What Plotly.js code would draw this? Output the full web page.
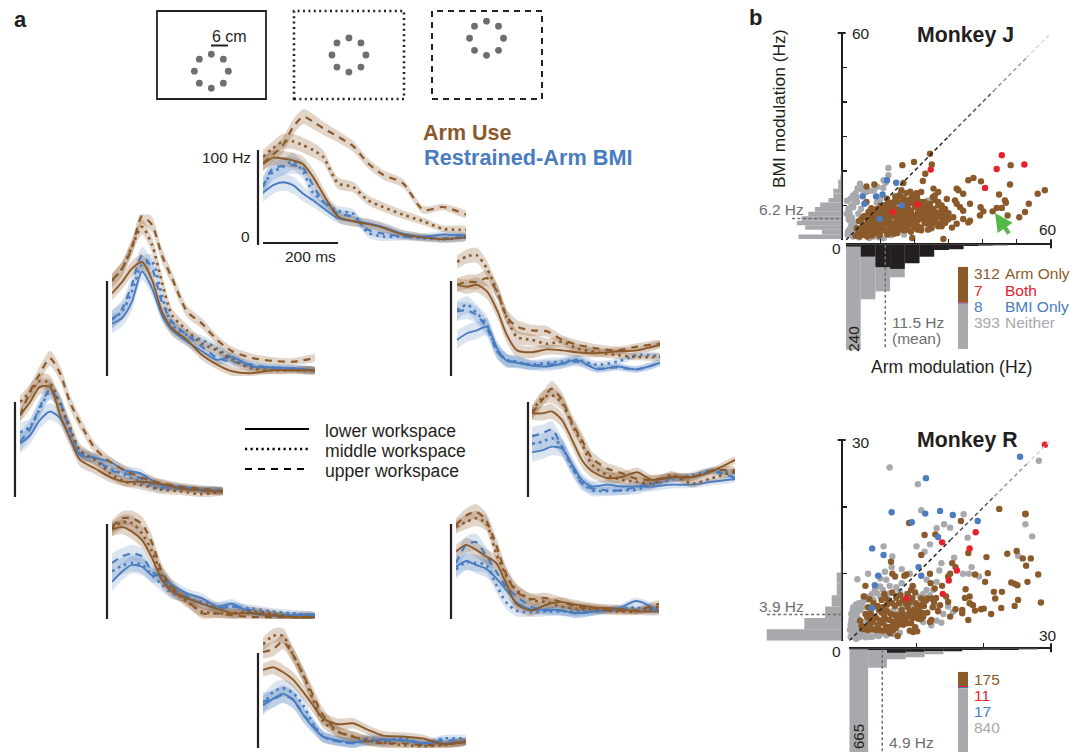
<!DOCTYPE html>
<html>
<head>
<meta charset="utf-8">
<script src="https://cdn.plot.ly/plotly-3.0.1.min.js"></script>
<style>html,body{margin:0;padding:0;background:#fff}</style>
</head>
<body>
<div id="chart" style="width:1084px;height:752px"></div>
<script>
// ---------- firing-rate traces (Hz) on a shared time grid (ms) ----------
const timeMs = [0,27,53,80,107,133,160,200,240,280,320,373,427,480,541];
const armBand = [7,7.5,8,8,8,8,7,6,5.5,5,5,4.5,4,3.5,3.5];
const bmiBand = [10,9,9,9,8,7,6,5,5,5,5,4,3.5,3.5,3];

const p1ArmDash = [86,95,105,124,135,130,123,114,104,86,74,65,37,40,32];
const p1ArmDot  = [93,102,109,109,105,100,93,65,61,47,40,32,25,17,16];
const p1ArmLine = [85,92,91,89,85,72,54,30,25,22,18,11,8,6,8];
const p1BmiDash = [61,81,83,84,81,63,46,33,30,16,12,9,8,7,9];
const p1BmiDot  = [63,77,82,88,77,55,46,36,33,13,9,9,7,6,8];
const p1BmiLine = [55,63,66,63,54,47,39,28,25,23,19,12,9,11,10];

const p2ArmDash = [101,113,135,168,159,127,103,68,55,38,26,19,16,15,19];
const p2ArmDot  = [100,113,136,157,138,99,64,48,34,27,17,8,6,6,6];
const p2ArmLine = [87,99,113,120,101,68,50,38,22,12,5,3,6,6,6];
const p2BmiDash = [59,71,96,127,113,78,57,43,31,19,15,12,8,8,6];
const p2BmiDot  = [60,68,89,117,120,85,54,43,38,29,19,10,9,8,6];
const p2BmiLine = [55,61,78,110,92,64,48,36,26,17,20,10,9,8,6];

const p3ArmDash = [96,99,99,103,89,62,52,48,47,38,33,29,27,31,34];
const p3ArmDot  = [120,126,127,113,89,61,41,38,34,36,29,25,22,20,20];
const p3ArmLine = [96,94,96,89,69,43,27,25,28,27,25,24,26,27,33];
const p3BmiDash = [68,69,64,50,26,16,15,11,12,13,15,8,9,7,14];
const p3BmiDot  = [69,75,66,54,26,17,15,12,14,15,17,12,15,22,21];
const p3BmiLine = [38,45,48,52,29,16,14,11,10,13,17,7,10,7,14];

const p4ArmDash = [86,111,130,146,130,100,78,51,37,28,21,15,11,9,6];
const p4ArmDot  = [100,111,122,120,97,74,49,39,25,16,13,8,6,3,6];
const p4ArmLine = [86,100,116,116,86,62,39,30,21,16,16,14,9,7,6];
const p4BmiDash = [58,72,95,113,99,72,46,41,28,25,20,11,9,7,6];
const p4BmiDot  = [68,74,93,111,100,67,48,39,30,23,16,9,9,8,7];
const p4BmiLine = [56,65,81,90,83,62,44,41,37,28,25,13,11,8,7];

const p5ArmDash = [88,102,114,102,78,60,41,30,25,19,18,21,21,28,28];
const p5ArmDot  = [90,104,107,99,76,56,34,23,18,16,14,23,14,20,27];
const p5ArmLine = [88,88,90,81,60,39,27,20,21,26,18,21,21,27,39];
const p5BmiDash = [64,67,71,53,32,14,9,7,7,11,14,20,21,27,20];
const p5BmiDot  = [56,58,62,53,30,16,7,6,7,8,13,18,23,28,25];
const p5BmiLine = [47,49,53,51,34,18,11,13,11,11,11,13,13,16,19];

const p6ArmDash = [97,106,106,100,80,50,34,20,6,6,4,2,2,2,2];
const p6ArmDot  = [95,102,101,90,71,46,32,18,8,6,6,8,6,2,2];
const p6ArmLine = [94,97,92,83,64,41,29,22,16,11,6,6,4,2,2];
const p6BmiDash = [59,66,69,66,50,43,32,24,16,11,13,9,4,4,4];
const p6BmiDot  = [50,56,59,57,46,36,27,22,18,13,13,11,8,6,4];
const p6BmiLine = [39,50,57,55,46,46,36,27,22,13,16,6,4,4,4];

const p7ArmDash = [99,109,113,104,78,48,29,21,22,18,13,11,9,9,16];
const p7ArmDot  = [97,102,106,101,69,46,31,20,18,13,11,10,8,8,13];
const p7ArmLine = [71,78,73,66,59,38,16,9,15,18,15,12,11,8,8];
const p7BmiDash = [59,78,81,67,50,34,24,13,9,9,6,8,11,9,9];
const p7BmiDot  = [52,60,59,57,36,18,9,7,8,8,8,8,11,12,9];
const p7BmiLine = [55,61,57,53,43,31,18,10,10,9,6,8,10,19,9];

const p8ArmDash = [101,104,112,98,77,56,35,17,12,7,5,5,3,4,7];
const p8ArmDot  = [109,118,118,98,77,51,28,17,12,8,6,3,2,3,7];
const p8ArmLine = [82,85,80,72,59,45,31,25,26,19,13,12,10,4,6];
const p8BmiDash = [49,51,56,51,35,24,12,7,5,8,7,8,5,8,7];
const p8BmiDot  = [45,59,63,58,45,26,12,7,5,10,8,10,5,10,10];
const p8BmiLine = [45,52,57,51,35,22,12,8,6,7,9,8,5,5,7];

// ---------- Monkey J scatter (arm Hz, BMI Hz) ----------
const jBrownX = [24.6,19.9,16.5,25.1,23.2,22.5,8.3,6.0,16.8,25.6,27.0,26.0,25.4,22.0,35.8,37.3,39.5,48.0,48.2,44.8,46.5,46.8,58.2,56.1,53.5,52.4,50.7,47.3,45.6,44.1,42.9,40.2,39.4,39.2,36.3,35.8,36.3,34.3,32.4,32.9,29.5,31.9,32.4,33.4,34.3,31.4,32.4,34.3,28.5,19.4,24.6,
 2.8,3.5,3.2,4,4.2,4.8,3.8,4.5,5.2,5.6,6,5.4,6.2,6.4,6.8,7,7.2,7.6,7.8,8,8.2,8.4,8.8,9,9.2,9.6,9.8,10,10.2,10.4,10.6,10.9,11,11.4,11.6,11.8,12.2,12.4,12.6,12.8,13,13.2,13.6,13.8,14,14.2,14.6,14.8,15,15.4,15.6,15.8,16,16.4,16.6,16.8,17,17.4,17.6,17.8,18,18.4,18.6,18.8,19,19.4,19.6,20,20.2,20.6,20.8,21,21.4,21.8,22,22.4,22.6,23,23.2,23.6,24,24.4,24.6,25,25.2,25.6,26,26.4,26.8,27,27.4,27.8,28,28.4,28.8,29,29.4,30,15,10.5,7.4,6.6,13.4,11,9.4,16,17.2,18,19.8,21.2,12,14.4,15.6,16.2,12.6,13.4,14.8,15.2,16.2,17,18.2,19.2,20.4,21.6,22.8,24.2,8.6,9.4,10.8,12,13,14.4,11.2,10,8.8,7.6,20.6,22.2,23.8,25.4,
 5,6,7,8,9,10,11,12,13,14,15,16,17,18,19,20,21,22,23,24,25,26,27,28,29,31,30,29,28,
 6,7,8,9,10,11,12,13,14,15,16,17,18,19,20,21,22,23,24,25,26,27,28,29,
 10,11,12,13,14,15,16,17,18,19,20,21,22,23,24,12,13,14,15,16,17,18,19,20,21,22,24.8,26,27,18,19.4,20.6];
const jBrownY = [25.0,22.6,21.7,21.9,19.2,17.1,16.1,15.5,16.5,14.9,13.9,12.9,12.4,13.9,17.3,18.0,17.0,16.1,21.7,13.2,11.5,10.8,14.4,13.4,10.5,8.1,6.6,7.1,9.3,9.3,8.3,8.3,9.5,7.1,5.6,5.1,10.5,13.4,14.9,14.4,11.9,11.5,10.5,9.5,8.5,6.6,4.7,6.1,0.3,0.6,10.5,
 1.2,2,3.4,1,2.6,4,5.5,6,1.5,3,4.6,7,1,5.6,2.4,7.6,3.6,1.3,5,6.6,8.4,2.2,3.8,9,5.6,7.2,1.2,4.4,10,2.8,6.2,8.4,3.4,5,7.4,9.6,1.6,6.4,10.8,3.8,8.4,5,2.6,6.8,10,4.2,7.8,11.6,5.6,9,3,6.4,12.6,8,4.6,10.6,6.2,9.2,13.6,3.8,7.2,11,5.2,14,8.6,6.4,12,4.6,9.6,7.2,12.8,5.6,10.2,8,3.6,6.2,9.4,11,7.4,4.8,8.6,6,9.8,3.4,7.2,9,5.6,8,6.6,10,4.8,7.4,9,6,8,5,7,6,2,5.4,9.2,8.2,9.6,6.2,4,5,11.8,9.8,10.6,3.8,12,12.6,13,14.4,7.6,4.6,6.6,8.2,7.2,8.8,5.6,7.4,5.2,8.4,6.4,7.8,6.8,8.2,9.4,7,8.8,4.8,6,8,5.2,4,5.6,8.2,9.2,8,6.6,
 2.8,2,1.8,3,2,3.2,2.2,3,1.8,3.2,3.6,2.8,3,2.4,3.4,3,2.8,5,3,3.6,5,4,4,5,3.6,7.8,9,10,11,
 6,5.4,4.6,6.4,8,7.6,8.8,7,8.6,7.4,9.8,8.4,5.6,4.6,6.4,8.8,7.4,9,7,6,7,8,7.4,8,
 9,10.4,9.6,11,11,10.8,11,10,12,10.8,11.4,11,10.4,6,5,4.4,4.2,5.4,4.4,6.6,5,4.6,5.8,8,6.8,4.4,11.6,11,11.4,13,13.6,14];
const jGrayX = [12.4,11,4.1,5.9,2.1,3.1,2.6,0.7,0.2,10,9,10.9,2.1,3.6,1.2,7.5,12.4,1,0.5,2,1.5,11,8,15,19,24,1.2,2.6,0.6,3.8,6.8,9.6,13.2,17,
 1,1.6,2.8,3.4,3.2,4.6,1.4,1.8,0.8,2.4,1.4,4.4,5.4,6.4,8.2,9.2,11.6,0.3];
const jGrayY = [20.9,17.3,16.3,13.9,12.9,12.4,11.5,9,7.6,11.9,10.9,15.1,9.5,7.6,5.6,14.3,18.8,3,1.5,1,4,0.5,1,2,3,11.5,7,5,2.4,0.8,0.6,0.8,1.4,1.6,
 8,10,13.6,15,11,14.6,12,6.4,6,3,2,9,15,14.2,14.4,15.4,16.6,11.4];
const jRedX = [45.6,52.2,44.1,40.7,24.8,20.9,13.7];
const jRedY = [24.6,21.9,20.6,15.1,20.4,10.3,8.1];
const jBlueX = [12,14.7,10.7,8.8,4.9,5.4,16.3,9.9];
const jBlueY = [17.3,16.6,13.2,12.6,12.7,10.5,10,6.1];

// ---------- Monkey R scatter ----------
const rGrayX = [6.0,10.2,10.7,13.0,14.1,15.0,17.0,17.6,26.2,27.2,28.2,5.1,10.0,12.0,11.2,6.4,1.2,2.8,5.3,7.8,9.0,13.4,13.7,15.6,18.2,16.9,17.8,19.3,25.1,9.5,11.5,13.0,6.3,4.6,5.5,4.6,4.1,2.1,1.1,0.6,0.3,0.1,0.8,1.6,2.6,3.6,5.0,13.7,12.2,15.4,14.7,7.8,6.0,7.0,8.0,10.5,11.5,12.5,10.5,8.5,4.6,3.1,5.5,3.6,0.8,1.1,1.6,2.3,3.6,4.6,2.6,1.6,0.3,0.8,0.4,0.5,0.4,0.7,1.2,1.3,2,1,3,4,2.2,3.2,2,3,1.8,6.5,7.5,5.8,7,9.3,
 0.2,0.2,0.3,0.5,0.6,1,1.4,2,2.6,3,3.4,3.8,0.9,1.2,1.8,2.4,3.4,4.4,5.5,6.6,1,1.4,2.2,2.6,3.4,4.2,5.4,5,6,7,7.5,8.5,9,9.5,8.5,7.5,6.5,11,12,13,14,11,13];
const rGrayY = [25.9,23.4,19.5,16.8,17.4,16.9,18.9,15.4,17.4,15.6,26.9,14.1,14.1,14.4,13.3,12.6,9.2,10.0,10.3,10.7,10.0,10.5,11.6,12.4,11.0,10.0,10.0,9.6,12.7,8.1,9.1,8.8,11.0,9.3,9.1,8.1,7.1,6.6,5.1,4.1,3.1,1.6,1.1,0.6,1.1,2.1,1.1,2.7,2.3,4.3,5.1,8.6,7.1,6.6,5.1,6.6,7.6,7.6,5.1,3.1,3.1,3.1,5.1,5.1,2.6,3.6,4.6,6.1,6.1,6.6,3.6,2.1,0.6,4.6,1,2,3.6,3.4,4.3,1.4,0.8,0.3,0.6,0.8,2.8,1.5,5,4.2,5.6,2,1.2,6,4,4.5,
 0.6,2.4,4,4.6,5,5.4,5.6,5.8,6.2,6.6,7,7.6,1.8,0.4,0.8,0.5,0.6,0.7,0.8,1,3,3.2,2,2.4,2.4,1.2,2.2,7.6,8.2,8,7.4,7,6,5.5,4,4.5,4.5,7,6.8,5,4,2.8,3];
const rBrownX = [22.3,26.2,26.2,16.6,8.9,11.2,12.8,23.5,24.9,25.8,27.0,26.3,28.1,26.5,24.1,24.6,25.0,28.5,25.1,24.6,22.7,21.5,21.7,22.6,21.1,20.0,19.6,18.7,17.7,18.4,17.9,17.9,17.3,17.2,16.8,15.8,16.8,20.2,20.6,18.7,20.4,17.7,15.3,15.8,15.0,14.7,10.7,12.0,8.5,8.2,6.8,6.4,6.2,2.4,2.2,9.4,12.1,12.7,13.8,14.4,14.7,13.5,12.2,11.6,12.2,12.0,10.7,10.2,15.0,9.5,10.1,7.2,
 1.6,1.8,2,2.3,2.7,3.1,3.6,4,4.5,5,5.8,6.1,6.5,6.9,7.2,7.6,8,8.3,8.6,8,7.6,7,6.5,6,5.4,5.2,4.8,4.4,3.8,3.3,2.7,2.4,2.8,3.2,5,5.6,5.9,4.8,5.4,6.4,6.8,7.4,8,8.7,9.2,9.8,9.4,9.9,10.2,9.6,10.4,9.7,10.8,11,9,8.7,6,4.3,3,9,9.8,11.1,10.7,12.4,11.6,9.2,
 3,3.5,4,4.6,5,5.5,6.4,7,7.4,8.2,8.8,9.4,10.2,10.6,6.8,6.2,5.6,4.2,3.6,3,7.8,8.4,9,7,7.6,6.4,5.2,11.4,10.8,12.6,12.9,13.2];
const rBrownY = [19.7,19.0,18.9,17.9,17.6,15.8,15.9,13.0,13.4,12.3,12.3,11.2,9.9,8.8,8.7,8.5,8.3,5.7,6.1,5.2,7.3,7.3,6.3,4.9,4.0,4.8,4.7,4.5,3.1,5.3,5.6,6.6,7.7,6.4,4.6,4.7,4.1,8.8,10.1,9.9,12.5,13.1,11.6,11.0,10.0,9.6,12.8,10.0,9.9,9.7,9.6,10.0,11.8,8.2,6.6,8.2,8.6,7.8,8.2,6.6,5.8,5.3,6.3,6.3,3.1,2.8,3.3,3.3,3.6,1.3,1.4,0.7,
 3,2.2,1.7,1.8,1.6,1.7,1.7,1.6,1.6,1.5,1.4,1.1,1.6,1.9,2.3,2.6,2.4,2.8,2.6,3.3,3.2,3,2.8,3.1,3.2,3.8,4.2,4.6,3.6,3.2,3.5,4,5,4.1,5,5.4,6,6.1,6.4,5.6,5.2,5.6,6.1,7,7.6,7.2,6.4,5.6,5,4.6,4.4,4.1,4.2,3.6,4.3,5,2,2.4,2.2,1.5,2,5.2,6.3,5,4.2,2.6,
 2.6,2.8,3.4,3,2.6,2,2.2,2.6,3.8,3.8,3.6,3.4,3.8,3.2,3.8,4,4.4,5.2,5.6,6.2,4.6,5.6,5.8,6.4,6.8,7.2,7,6,5.4,5.8,6.4,4.4];
const rRedX = [29.1,13.8,18.8,17.9,16.0,14.8,13.9,8.5];
const rRedY = [29.3,14.7,16.2,13.8,10.5,9.0,7.0,6.3];
const rBlueX = [25.4,11.4,6.3,11.3,13.5,15.4,19.1,9.3,13.2,3.4,5.1,10.3,10.7,4.3,3.8,3.4];
const rBlueY = [27.5,24.3,19.2,19,19.4,18.8,17.9,17.7,15.5,13.8,12.8,11,9.7,9.7,8.3,4.9];

// ---------- marginal histograms (counts) ----------
const jBottomBinHz = [2.15,6.45,10.75,15.05,19.35,23.65,27.95,32.25,36.55,40.85,45.15];
const jBottomGray  = [240,125,107,75,43,28,13,9,4,3,2];
const jBottomBlack = [5,28,52,56,43,28,13,11,4,3,2];
const jLeftBinHz   = [0.96,2.28,3.6,4.92,6.24,7.56,8.88,10.2,11.52,12.84,14.16,15.48,16.8,18.1,19.4];
const jLeftGray    = [98,45,83,102,91,76,61,49,30,19,19,8,8,3,2];
const rBottomBinHz = [1.4,4.2,7,9.8,12.6,15.4,18.2,21,23.8,26.6];
const rBottomGray  = [665,97,55,45,30,17,8,7,8,5];
const rBottomBlack = [5,8,22,17,13,13,8,7,8,5];
const rLeftBinHz   = [0.85,2.55,4.25,5.95,7.65,9.35,11.05,12.75];
const rLeftGray    = [375,187,83,50,25,25,5,2];

// ---------- category totals ----------
const categories = ['Arm Only','Both','BMI Only','Neither'];
const jCounts = [312,7,8,393];
const rCounts = [175,11,17,840];

// ---------- workspace targets (cm) ----------
const ringX = [0,4.24,6,4.24,0,-4.24,-6,-4.24];
const ringY = [6,4.24,0,-4.24,-6,-4.24,0,4.24];
const workspaceCentreX = [19.2,67.8,116.4];
const workspaceCentreY = [9.8,15.5,21.4];

// ---------- styling ----------
const BROWN='#8b5a2b', BLUE='#4a7cbf', RED='#e8212d', GRAY='#a7a9ac', DARK='#231f20', MID='#6d6e70', GREEN='#56b848';
const FONT='"Liberation Sans", Arial, sans-serif';
const W=1084, H=752;
const fx=x=>x/W, fy=y=>1-y/H;

const layout={width:W,height:H,autosize:false,margin:{l:0,r:0,t:0,b:0,pad:0},showlegend:false,hovermode:false,
  paper_bgcolor:'#fff',plot_bgcolor:'rgba(0,0,0,0)',barmode:'overlay',font:{family:FONT,color:DARK},shapes:[],annotations:[]};
const traces=[];
let axN=0;
function axes(xpx,ypx,xr,yr,xo={},yo={}){
  axN++;
  const xk=axN===1?'xaxis':'xaxis'+axN, yk=axN===1?'yaxis':'yaxis'+axN, xid='x'+(axN===1?'':axN), yid='y'+(axN===1?'':axN);
  const yd=[fy(Math.max(ypx[0],ypx[1])),fy(Math.min(ypx[0],ypx[1]))];
  layout[xk]=Object.assign({domain:[fx(xpx[0]),fx(xpx[1])],range:xr,visible:false,fixedrange:true,showgrid:false,zeroline:false,anchor:yid},xo);
  layout[yk]=Object.assign({domain:yd,range:yr,visible:false,fixedrange:true,showgrid:false,zeroline:false,anchor:xid},yo);
  return {x:xid,y:yid};
}
function text(x,y,t,o={}){
  layout.annotations.push({xref:'paper',yref:'paper',x:fx(x),y:fy(y),text:t,showarrow:false,xanchor:o.anchor||'left',yanchor:'middle',
    textangle:o.angle||0,borderpad:0,font:{family:FONT,size:o.size||15.5,color:o.color||DARK}});
}
function line(x0,y0,x1,y1,color,width,dash){
  layout.shapes.push({type:'line',layer:'above',xref:'paper',yref:'paper',x0:fx(x0),x1:fx(x1),y0:fy(y0),y1:fy(y1),line:{color,width,dash:dash||'solid'}});
}

// ---------- panels ----------
const DOT='2.6px,4.2px', DASH='7px,6px';
const panels=[
 {x:263,bar:258,base:245,s:[p1BmiLine,p1BmiDot,p1BmiDash,p1ArmLine,p1ArmDot,p1ArmDash]},
 {x:112,bar:107,base:376,s:[p2BmiLine,p2BmiDot,p2BmiDash,p2ArmLine,p2ArmDot,p2ArmDash]},
 {x:457,bar:451,base:376,s:[p3BmiLine,p3BmiDot,p3BmiDash,p3ArmLine,p3ArmDot,p3ArmDash]},
 {x:20,bar:15,base:497,s:[p4BmiLine,p4BmiDot,p4BmiDash,p4ArmLine,p4ArmDot,p4ArmDash]},
 {x:532,bar:528,base:497,s:[p5BmiLine,p5BmiDot,p5BmiDash,p5ArmLine,p5ArmDot,p5ArmDash]},
 {x:112,bar:107,base:619,s:[p6BmiLine,p6BmiDot,p6BmiDash,p6ArmLine,p6ArmDot,p6ArmDash]},
 {x:456,bar:451,base:619,s:[p7BmiLine,p7BmiDot,p7BmiDash,p7ArmLine,p7ArmDot,p7ArmDash]},
 {x:263,bar:258,base:748,s:[p8BmiLine,p8BmiDot,p8BmiDash,p8ArmLine,p8ArmDot,p8ArmDash]}
];
panels.forEach(p=>{
  const a=axes([p.x,p.x+203],[p.base,p.base-161.5],[0,541],[0,170]);
  const style=[[BLUE,'solid',bmiBand,'rgba(74,124,191,0.2)'],[BLUE,DOT,bmiBand,'rgba(74,124,191,0.2)'],[BLUE,DASH,bmiBand,'rgba(74,124,191,0.2)'],
               [BROWN,'solid',armBand,'rgba(139,90,43,0.26)'],[BROWN,DOT,armBand,'rgba(139,90,43,0.26)'],[BROWN,DASH,armBand,'rgba(139,90,43,0.26)']];
  p.s.forEach((v,i)=>{
    const b=style[i][2];
    traces.push({x:timeMs.concat(timeMs.slice().reverse()),
      y:v.map((d,j)=>d+b[j]).concat(v.map((d,j)=>Math.max(0,d-b[j])).reverse()),
      mode:'lines',fill:'toself',fillcolor:style[i][3],line:{width:0,shape:'spline',smoothing:0.7},xaxis:a.x,yaxis:a.y,cliponaxis:false});
  });
  p.s.forEach((v,i)=>{
    traces.push({x:timeMs,y:v,mode:'lines',line:{color:style[i][0],width:i%3===0?1.9:i%3===1?2.6:2.2,dash:style[i][1],shape:'spline',smoothing:0.7},xaxis:a.x,yaxis:a.y,cliponaxis:false});
  });
  layout.shapes.push({type:'line',layer:'above',xref:'paper',yref:a.y,x0:fx(p.bar),x1:fx(p.bar),y0:0,y1:100,line:{color:DARK,width:2.2}});
  p.ax=a;
});
// 200 ms bar
layout.shapes.push({type:'line',layer:'above',xref:panels[0].ax.x,yref:'paper',x0:0,x1:200,y0:fy(243),y1:fy(243),line:{color:DARK,width:2.2}});

// ---------- workspace boxes ----------
const wa=axes([157,542],[99,11],[0,136],[0,31]);
workspaceCentreX.forEach((cx,i)=>{
  traces.push({x:ringX.map(v=>v+cx),y:ringY.map(v=>v+workspaceCentreY[i]),mode:'markers',marker:{size:6.8,color:'#6d6e70'},xaxis:wa.x,yaxis:wa.y,cliponaxis:false});
});
[[157,266,'solid',1.8],[294,404,'2px,3.4px',2.6],[432,542,'6px,5px',2]].forEach(b=>{
  layout.shapes.push({type:'rect',layer:'above',xref:'paper',yref:'paper',x0:fx(b[0]),x1:fx(b[1]),y0:fy(99),y1:fy(11),line:{color:'#222',width:b[3],dash:b[2]}});
});
line(211,45.5,228,45.5,DARK,2);
text(211,37,'6 cm',{size:16});

// ---------- left-side text ----------
text(13,20,'<b>a</b>',{size:22});
text(748,18,'<b>b</b>',{size:22});
text(422,133,'<b>Arm Use</b>',{size:21.5,color:BROWN});
text(423,157,'<b>Restrained-Arm BMI</b>',{size:21.7,color:BLUE});
text(252,157,'100 Hz',{anchor:'right'});
text(251,237,'0',{anchor:'right'});
text(337,256,'200 ms',{anchor:'right'});

// workspace legend
line(245,429,309,429,'#000',2.2);
line(245,449,309,449,'#000',2.4,'2.2px,3.3px');
line(245,469,309,469,'#000',2.2,'7px,6px');
text(324,431,'lower workspace',{size:17.6});
text(324,451,'middle workspace',{size:17.6});
text(324,471,'upper workspace',{size:17.6});

// ---------- scatter builder ----------
function scatterPanel(o){
  const axisStyle={visible:true,showline:true,linecolor:DARK,linewidth:2,ticks:'inside',ticklen:4,tickwidth:1.2,tickcolor:DARK,showticklabels:false,anchor:'free'};
  const s=axes(o.xpx,o.ypx,[0,o.max],[0,o.max],
    Object.assign({},axisStyle,{tickvals:o.ticks,position:fy(o.xAxisY)}),
    Object.assign({},axisStyle,{tickvals:o.ticks,position:fx(o.yAxisX)}));
  const bottom=axes(o.xpx,[o.xAxisY,o.histBottomY],[0,o.max],[o.bottomRange,0]);
  const left=axes([o.leftX,o.yAxisX],o.ypx,[o.leftRange,0],[0,o.max]);
  traces.push({type:'bar',x:o.bottomBins,y:o.bottomGray,width:o.binW,marker:{color:GRAY,line:{width:0}},xaxis:bottom.x,yaxis:bottom.y});
  traces.push({type:'bar',x:o.bottomBins,y:o.bottomBlack,width:o.binW,marker:{color:DARK,line:{width:0}},xaxis:bottom.x,yaxis:bottom.y});
  traces.push({type:'bar',orientation:'h',y:o.leftBins,x:o.leftGray,width:o.leftW,marker:{color:GRAY,line:{width:0}},xaxis:left.x,yaxis:left.y});
  [[o.gray,GRAY],[o.brown,BROWN],[o.blue,BLUE],[o.red,RED]].forEach(c=>{
    traces.push({x:c[0][0],y:c[0][1],mode:'markers',marker:{size:6.4,color:c[1],line:{width:0}},xaxis:s.x,yaxis:s.y,cliponaxis:false});
  });
  // identity line fading toward the top
  const m=o.max;
  [[0,0.5,'#222'],[0.5,0.72,'#555'],[0.72,0.88,'#999'],[0.88,1,'#d8d8d8']].forEach(g=>{
    traces.push({x:[g[0]*m,g[1]*m],y:[g[0]*m,g[1]*m],mode:'lines',line:{color:g[2],width:1.5,dash:'4px,3px'},xaxis:s.x,yaxis:s.y,cliponaxis:false});
  });
  // mean markers
  layout.shapes.push({type:'line',layer:'above',xref:'paper',yref:s.y,x0:fx(o.meanLeftX),x1:fx(o.yAxisX),y0:o.meanY,y1:o.meanY,line:{color:MID,width:1.5,dash:'3px,2.5px'}});
  layout.shapes.push({type:'line',layer:'above',xref:s.x,yref:'paper',x0:o.meanX,x1:o.meanX,y0:fy(o.xAxisY+1),y1:fy(o.meanBottomY),line:{color:MID,width:1.5,dash:'3px,2.5px'}});
  // ends of axes
  line(o.yAxisX-4,o.ypx[1],o.yAxisX+4,o.ypx[1],DARK,2);
  line(o.xpx[1],o.xAxisY-5,o.xpx[1],o.xAxisY+4,DARK,2);
  // category bar
  const st=axes([958,968],[o.barTop,o.barBottom],[0,1],[o.barRange,0]);
  let base=0;
  o.counts.forEach((c,i)=>{
    traces.push({type:'bar',x:[0.5],y:[c],base:[base],width:1,marker:{color:[BROWN,RED,BLUE,GRAY][i],line:{width:0}},xaxis:st.x,yaxis:st.y});
    base+=c;
  });
}

scatterPanel({xpx:[846,1051],ypx:[240,33],max:60,ticks:[10,20,30,40,50,60],xAxisY:244.3,yAxisX:841.7,histBottomY:352,bottomRange:245,
  leftX:780,leftRange:61.7/0.44,bottomBins:jBottomBinHz,binW:4.3,bottomGray:jBottomGray,bottomBlack:jBottomBlack,leftBins:jLeftBinHz,leftW:1.32,leftGray:jLeftGray,
  gray:[jGrayX,jGrayY],brown:[jBrownX,jBrownY],blue:[jBlueX,jBlueY],red:[jRedX,jRedY],meanX:11.5,meanY:6.2,meanLeftX:792,meanBottomY:349,
  barTop:266.7,barBottom:349,barRange:720,counts:jCounts});

scatterPanel({xpx:[849.3,1051],ypx:[640.7,440],max:30,ticks:[10,20,30],xAxisY:648.3,yAxisX:841.7,histBottomY:752,bottomRange:519,
  leftX:760,leftRange:81.7/0.2,bottomBins:rBottomBinHz,binW:2.8,bottomGray:rBottomGray,bottomBlack:rBottomBlack,leftBins:rLeftBinHz,leftW:1.7,leftGray:rLeftGray,
  gray:[rGrayX,rGrayY],brown:[rBrownX,rBrownY],blue:[rBlueX,rBlueY],red:[rRedX,rRedY],meanX:4.9,meanY:3.9,meanLeftX:767,meanBottomY:752,
  barTop:671.7,barBottom:752,barRange:983,counts:rCounts});

// ---------- right-side text ----------
text(916,35,'<b>Monkey J</b>',{size:21.3});
text(851,33,'60');
text(1058,229,'60',{anchor:'right'});
text(842,249,'0',{anchor:'right'});
text(758,209,'6.2 Hz',{color:MID});
text(779,109,'BMI modulation (Hz)',{size:17.4,angle:-90,anchor:'center'});
text(951,367,'Arm modulation (Hz)',{size:17.6,anchor:'center'});
text(891,322,'11.5 Hz',{color:MID});
text(891,338,'(mean)',{color:MID});
text(853,339,'240',{angle:-90,anchor:'center'});
const jCol=[BROWN,RED,BLUE,GRAY], jRow=[274,290,306,322];
jCounts.forEach((c,i)=>{
  text(973,jRow[i],String(c),{color:jCol[i]});
  text(1004,jRow[i],categories[i],{color:jCol[i]});
});

text(916,440,'<b>Monkey R</b>',{size:21.3});
text(851,442,'30');
text(1058,635,'30',{anchor:'right'});
text(842,651,'0',{anchor:'right'});
text(758,606,'3.9 Hz',{color:MID});
text(888,742,'4.9 Hz',{color:MID});
text(858,737,'665',{angle:-90,anchor:'center',size:15});
const rRow=[679,695,711,727];
rCounts.forEach((c,i)=>text(973,rRow[i],String(c),{color:jCol[i]}));

// green arrow
layout.annotations.push({xref:'paper',yref:'paper',x:fx(995),y:fy(213),ax:15,ay:22,axref:'pixel',ayref:'pixel',text:'',showarrow:true,arrowhead:2,arrowsize:0.9,arrowwidth:4,arrowcolor:GREEN});

Plotly.newPlot('chart',traces,layout,{staticPlot:true,displayModeBar:false});
</script>
</body>
</html>
